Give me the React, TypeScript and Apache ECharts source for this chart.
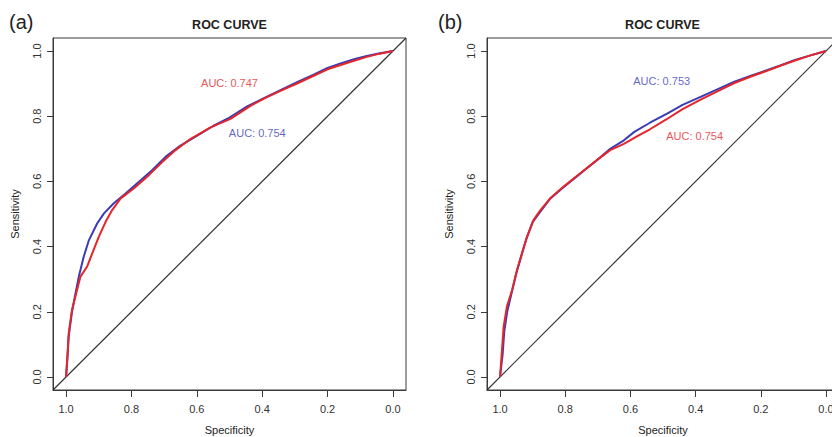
import React, { useEffect, useRef } from "react";
import * as echarts from "echarts";

// ---------- data ----------
const tickValues = [0, 0.2, 0.4, 0.6, 0.8, 1.0];
const panelLabels = ["(a)", "(b)"];
const titleText = "ROC CURVE";
const xAxisName = "Specificity";
const yAxisName = "Sensitivity";

// [specificity, sensitivity]
const rocA_blue = [
  [1, 0], [0.995, 0.07], [0.992, 0.124], [0.982, 0.2], [0.971, 0.257], [0.961, 0.308],
  [0.946, 0.369], [0.93, 0.42], [0.905, 0.471], [0.884, 0.502], [0.854, 0.533],
  [0.818, 0.563], [0.777, 0.599], [0.736, 0.635], [0.695, 0.676], [0.65, 0.71],
  [0.6, 0.74], [0.55, 0.77], [0.5, 0.796], [0.446, 0.83], [0.39, 0.858], [0.344, 0.88],
  [0.29, 0.906], [0.241, 0.928], [0.2, 0.948], [0.16, 0.962], [0.119, 0.975],
  [0.08, 0.985], [0.04, 0.993], [0, 1],
];
const rocA_red = [
  [1, 0], [0.995, 0.08], [0.992, 0.134], [0.982, 0.205], [0.969, 0.257], [0.956, 0.308],
  [0.936, 0.338], [0.92, 0.379], [0.9, 0.43], [0.879, 0.476], [0.859, 0.512],
  [0.833, 0.548], [0.792, 0.579], [0.746, 0.62], [0.705, 0.66], [0.665, 0.696],
  [0.62, 0.73], [0.558, 0.766], [0.497, 0.792], [0.436, 0.832], [0.39, 0.856],
  [0.344, 0.878], [0.29, 0.902], [0.241, 0.925], [0.2, 0.944], [0.16, 0.957],
  [0.119, 0.97], [0.08, 0.982], [0.04, 0.992], [0, 1],
];
const rocB_blue = [
  [1, 0], [0.992, 0.07], [0.987, 0.14], [0.978, 0.2], [0.965, 0.255], [0.95, 0.318],
  [0.935, 0.37], [0.92, 0.422], [0.9, 0.475], [0.878, 0.505], [0.848, 0.545],
  [0.808, 0.58], [0.756, 0.622], [0.704, 0.664], [0.662, 0.7], [0.62, 0.726],
  [0.588, 0.752], [0.54, 0.78], [0.486, 0.809], [0.44, 0.835], [0.383, 0.86],
  [0.33, 0.884], [0.281, 0.906], [0.23, 0.924], [0.179, 0.942], [0.14, 0.956],
  [0.097, 0.972], [0.05, 0.986], [0, 1],
];
const rocB_red = [
  [1, 0], [0.994, 0.083], [0.989, 0.154], [0.979, 0.216], [0.963, 0.267], [0.948, 0.328],
  [0.933, 0.379], [0.917, 0.43], [0.897, 0.482], [0.876, 0.512], [0.846, 0.548],
  [0.805, 0.584], [0.754, 0.625], [0.702, 0.666], [0.662, 0.696], [0.62, 0.715],
  [0.58, 0.738], [0.54, 0.76], [0.49, 0.79], [0.44, 0.822], [0.383, 0.852],
  [0.33, 0.878], [0.281, 0.902], [0.23, 0.922], [0.179, 0.94], [0.14, 0.955],
  [0.097, 0.97], [0.05, 0.986], [0, 1],
];
const diagonal = [[1.04, -0.04], [-0.04, 1.04]];

// AUC annotations
const aucLabels = [
  { panel: 0, text: "AUC: 0.747", spec: 0.5, sens: 0.902, color: "red" },
  { panel: 0, text: "AUC: 0.754", spec: 0.415, sens: 0.747, color: "blue" },
  { panel: 1, text: "AUC: 0.753", spec: 0.504, sens: 0.909, color: "blue" },
  { panel: 1, text: "AUC: 0.754", spec: 0.403, sens: 0.739, color: "red" },
];

const COLORS: Record<string, string> = { red: "#e4252a", blue: "#3b3bb4" };
const FONT = "Liberation Sans, Arial, Helvetica, sans-serif";
const AXIS_COLOR = "#3a3a3a";

export default function App() {
  const ref = useRef<HTMLDivElement>(null);
  useEffect(() => {
    if (!ref.current) return;
    const chart = echarts.init(ref.current, undefined, { renderer: "svg" });

    const grids = [
      { left: 53, width: 353, top: 38, bottom: 47 },
      { left: 487, width: 352, top: 38, bottom: 47 },
    ].map((g) => ({
      ...g,
      show: true,
      borderColor: AXIS_COLOR,
      borderWidth: 1,
      backgroundColor: "transparent",
      containLabel: false,
      outerBoundsMode: "none",
    }));

    const xAxes = [0, 1].map((i) => ({
      type: "value",
      gridIndex: i,
      min: -0.04,
      max: 1.04,
      inverse: true,
      name: xAxisName,
      nameLocation: "middle",
      nameGap: 34,
      nameTextStyle: { fontFamily: FONT, fontSize: 11, color: "#222" },
      axisLine: { show: true, onZero: false, lineStyle: { color: AXIS_COLOR, width: 1 } },
      axisTick: { show: true, length: 7, customValues: tickValues, lineStyle: { color: AXIS_COLOR } },
      axisLabel: {
        show: true,
        customValues: tickValues,
        formatter: (v: number) => v.toFixed(1),
        margin: 13,
        fontFamily: FONT,
        fontSize: 11,
        color: "#333",
      },
      splitLine: { show: false },
    }));

    const yAxes = [0, 1].map((i) => ({
      type: "value",
      gridIndex: i,
      min: -0.04,
      max: 1.04,
      name: yAxisName,
      nameLocation: "middle",
      nameGap: 33,
      nameRotate: 90,
      nameTextStyle: { fontFamily: FONT, fontSize: 11, color: "#222" },
      axisLine: { show: true, onZero: false, lineStyle: { color: AXIS_COLOR, width: 1 } },
      axisTick: { show: true, length: 6, customValues: tickValues, lineStyle: { color: AXIS_COLOR } },
      axisLabel: {
        show: true,
        customValues: tickValues,
        formatter: (v: number) => v.toFixed(1),
        rotate: 90,
        margin: 11,
        fontFamily: FONT,
        fontSize: 11,
        color: "#333",
      },
      splitLine: { show: false },
    }));

    const lineSeries = (data: number[][], idx: number, color: string, width: number, z: number) => ({
      type: "line",
      xAxisIndex: idx,
      yAxisIndex: idx,
      data,
      showSymbol: false,
      symbol: "none",
      lineStyle: { color, width },
      z,
      silent: true,
    });

    const series: any[] = [
      lineSeries(diagonal, 0, "#333", 1.2, 1),
      lineSeries(rocA_blue, 0, COLORS.blue, 2, 2),
      lineSeries(rocA_red, 0, COLORS.red, 2, 3),
      lineSeries(diagonal, 1, "#333", 1.2, 1),
      lineSeries(rocB_blue, 1, COLORS.blue, 2, 2),
      lineSeries(rocB_red, 1, COLORS.red, 2, 3),
      ...aucLabels.map((a) => ({
        type: "scatter",
        xAxisIndex: a.panel,
        yAxisIndex: a.panel,
        data: [[a.spec, a.sens]],
        symbolSize: 0,
        silent: true,
        z: 5,
        label: {
          show: true,
          position: "inside",
          formatter: a.text,
          color: COLORS[a.color],
          fontFamily: FONT,
          fontSize: 11,
        },
      })),
    ];

    const titles: any[] = [
      { text: titleText, left: 229.5, textAlign: "center", top: 18, padding: 0,
        textStyle: { fontFamily: FONT, fontSize: 12.5, fontWeight: "bold", color: "#222" } },
      { text: titleText, left: 662.5, textAlign: "center", top: 18, padding: 0,
        textStyle: { fontFamily: FONT, fontSize: 12.5, fontWeight: "bold", color: "#222" } },
      { text: panelLabels[0], left: 9, top: 12, padding: 0,
        textStyle: { fontFamily: FONT, fontSize: 20, fontWeight: "normal", color: "#222" } },
      { text: panelLabels[1], left: 438, top: 12, padding: 0,
        textStyle: { fontFamily: FONT, fontSize: 20, fontWeight: "normal", color: "#222" } },
    ];

    chart.setOption({
      animation: false,
      backgroundColor: "#ffffff",
      title: titles,
      grid: grids,
      xAxis: xAxes,
      yAxis: yAxes,
      series,
    });

    return () => chart.dispose();
  }, []);

  return (
    <div
      ref={ref}
      style={{ position: "fixed", left: 0, top: 0, width: 832, height: 437 }}
    />
  );
}
